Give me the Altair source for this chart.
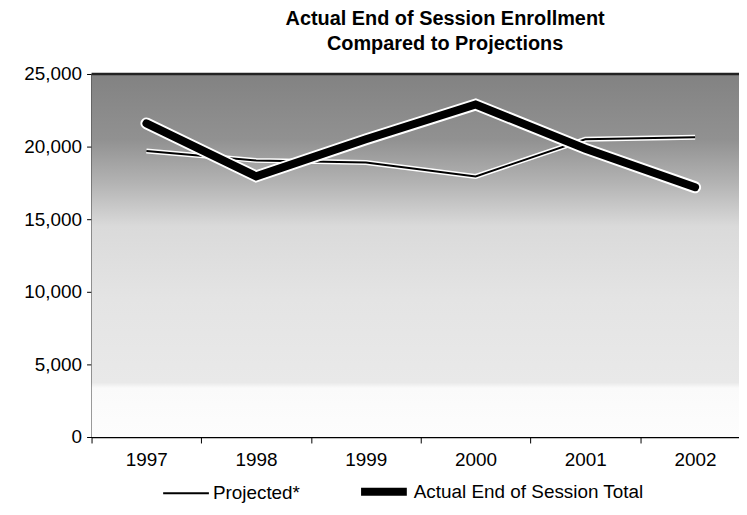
import altair as alt
import pandas as pd

# ---- data ----
years = [1997, 1998, 1999, 2000, 2001, 2002]
projected = [19700, 19050, 18900, 17950, 20500, 20650]
actual = [21600, 17950, 20500, 22900, 19850, 17200]
series_names = ["Projected*", "Actual End of Session Total"]
y_ticks = [0, 5000, 10000, 15000, 20000, 25000]
x_tick_positions = [1996.5, 1997.5, 1998.5, 1999.5, 2000.5, 2001.5]

rows = []
for yr, p, a in zip(years, projected, actual):
    rows.append({"year": yr, "series": series_names[0], "value": p})
    rows.append({"year": yr, "series": series_names[1], "value": a})
df = pd.DataFrame(rows)

W, H = 651, 365
FONT = "Liberation Sans"

x_enc = alt.X(
    "year:Q",
    scale=alt.Scale(domain=[1996.5, 2002.4], nice=False, zero=False),
    axis=alt.Axis(
        values=x_tick_positions,
        labelExpr="'' + (datum.value + 0.5)",
        labelOffset=55,
        title=None,
        grid=False,
        tickSize=6,
        tickColor="black",
        domainColor="black",
        domainWidth=1.5,
        labelFont=FONT,
        labelFontSize=19,
        labelColor="black",
        labelPadding=8,
        labelOverlap=False,
        labelFlush=False,
        labelBound=False,
    ),
)
y_enc = alt.Y(
    "value:Q",
    scale=alt.Scale(domain=[0, 25000], nice=False),
    axis=alt.Axis(
        values=y_ticks,
        format=",d",
        title=None,
        grid=False,
        tickSize=5,
        tickColor="black",
        domainColor="black",
        domainWidth=1.5,
        labelFont=FONT,
        labelFontSize=19,
        labelColor="black",
        labelPadding=5,
    ),
)

legend = alt.Legend(
    orient="none",
    legendX=71,
    legendY=393,
    direction="horizontal",
    title=None,
    symbolType="stroke",
    symbolSize=2116,
    labelFont=FONT,
    labelFontSize=19,
    labelColor="black",
    labelOffset=3,
    labelLimit=400,
    columnPadding=45,
)
color_enc = alt.Color(
    "series:O",
    scale=alt.Scale(domain=series_names, range=["black", "black"]),
    legend=legend,
)
width_enc = alt.StrokeWidth(
    "series:O",
    scale=alt.Scale(domain=series_names, range=[2, 8]),
    legend=legend,
)

bg = alt.Chart(pd.DataFrame({"a": [0]})).mark_rect(
    color=alt.LinearGradient(
        gradient="linear",
        x1=0, x2=0, y1=0, y2=1,
        stops=[
            alt.GradientStop(offset=0.0, color="#828282"),
            alt.GradientStop(offset=0.18, color="#919191"),
            alt.GradientStop(offset=0.30, color="#b3b3b3"),
            alt.GradientStop(offset=0.42, color="#dadada"),
            alt.GradientStop(offset=0.62, color="#e4e4e4"),
            alt.GradientStop(offset=0.85, color="#e9e9e9"),
            alt.GradientStop(offset=0.865, color="#fafafa"),
            alt.GradientStop(offset=1.0, color="#fdfdfd"),
        ],
    )
).encode(x=alt.value(0), x2=alt.value("width"), y=alt.value(0), y2=alt.value("height"))

top_border = alt.Chart(pd.DataFrame({"a": [0]})).mark_rule(
    color="#222222", strokeWidth=2.5
).encode(x=alt.value(0), x2=alt.value("width"), y=alt.value(0))

base = alt.Chart(df)

proj_halo = base.transform_filter(alt.datum.series == series_names[0]).mark_line(
    color="white", strokeWidth=5
).encode(x=x_enc, y=y_enc)
proj_line = base.transform_filter(alt.datum.series == series_names[0]).mark_line().encode(
    x=x_enc, y=y_enc, color=color_enc, strokeWidth=width_enc
)
act_halo = base.transform_filter(alt.datum.series == series_names[1]).mark_line(
    color="white", strokeWidth=12, strokeCap="round"
).encode(x=x_enc, y=y_enc)
act_line = base.transform_filter(alt.datum.series == series_names[1]).mark_line(
    strokeCap="round", strokeJoin="miter"
).encode(x=x_enc, y=y_enc, color=color_enc, strokeWidth=width_enc)

chart = alt.layer(bg, top_border, proj_halo, proj_line, act_halo, act_line).properties(
    width=W,
    height=H,
    title=alt.TitleParams(
        text=["Actual End of Session  Enrollment", "Compared to Projections"],
        font=FONT,
        fontSize=20,
        fontWeight="bold",
        color="black",
        anchor="middle",
        dx=30,
        offset=11,
        lineHeight=25,
    ),
    autosize=alt.AutoSizeParams(type="none"),
    padding={"left": 84, "top": 65, "right": 0, "bottom": 65},
).configure_view(stroke=None).configure(background="white")

chart.save("out.html", embed_options={"renderer": "svg", "actions": False})
